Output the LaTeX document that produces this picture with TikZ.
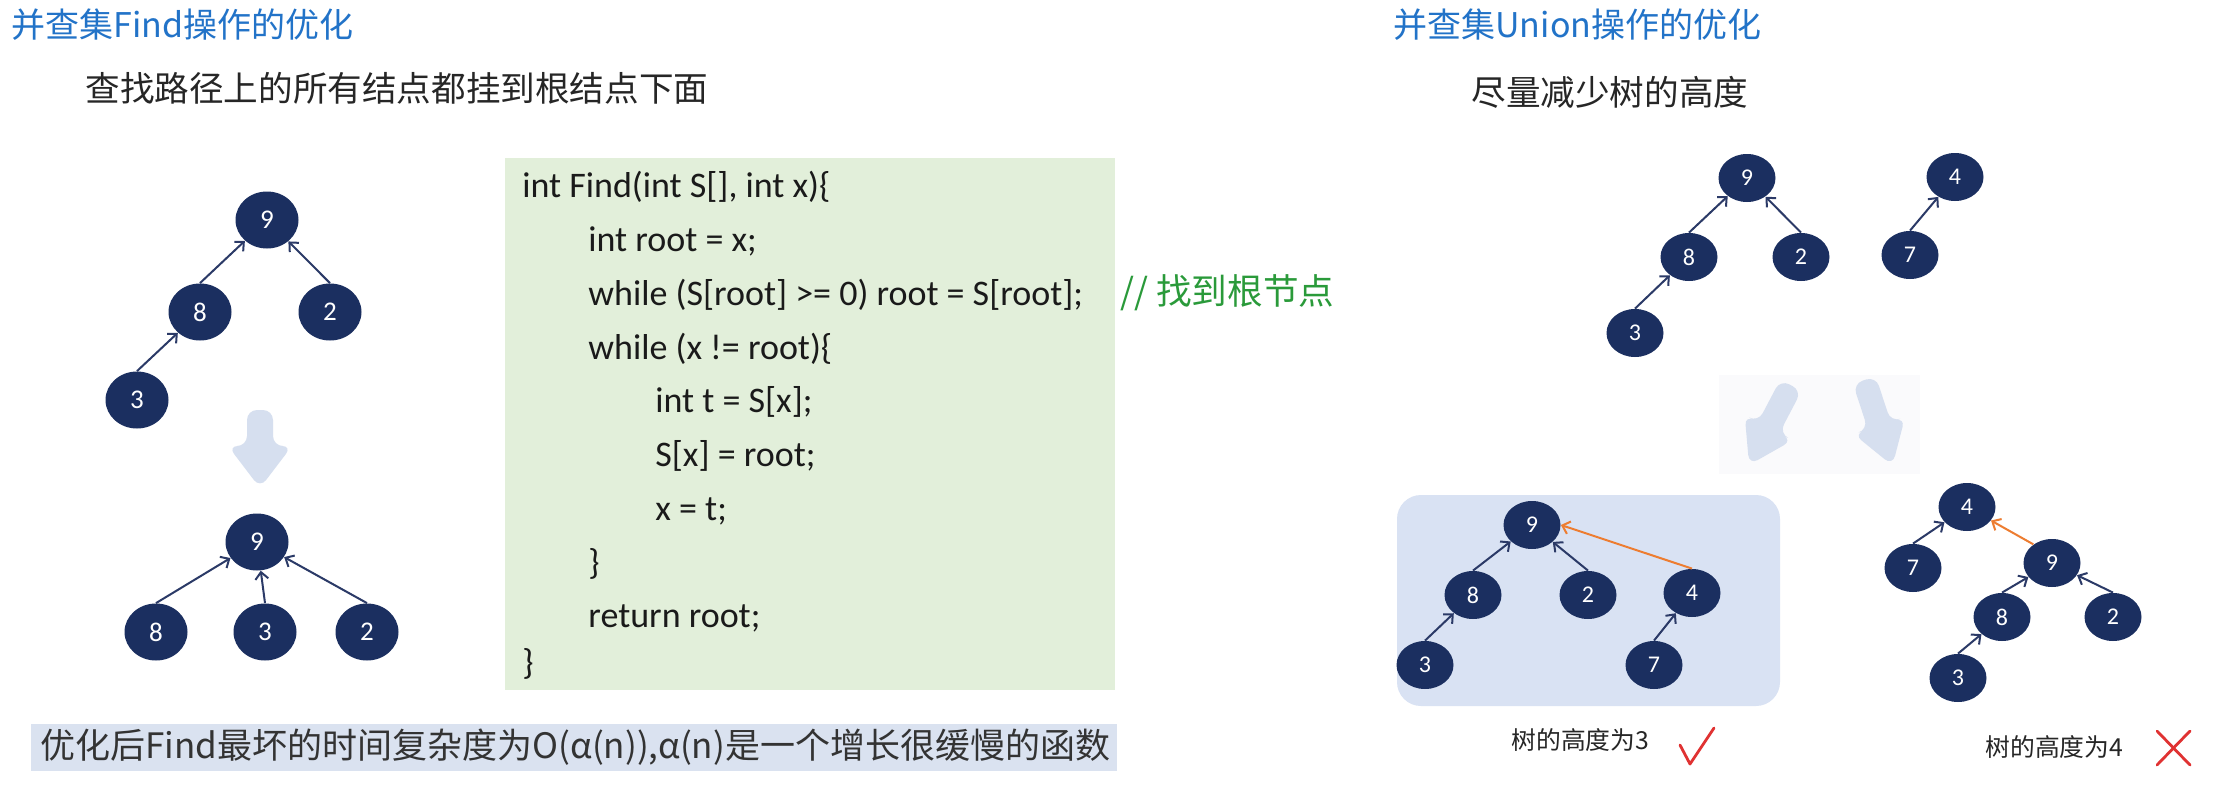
\documentclass[tikz,border=0pt]{standalone}
\usepackage{fontspec}
\setmainfont{Carlito}
\newfontfamily\cjk{Noto Sans CJK SC}
\newfontfamily\codefont{Carlito}
\usetikzlibrary{shapes.geometric,arrows.meta}
\definecolor{titleblue}{HTML}{2273C8}
\definecolor{navy}{HTML}{1B2F60}
\definecolor{edgec}{HTML}{2B3A67}
\definecolor{codebg}{HTML}{E2EFDA}
\definecolor{bannerbg}{HTML}{DAE2F0}
\definecolor{boxbg}{HTML}{D9E2F3}
\definecolor{arrowbg}{HTML}{D6DFEF}
\definecolor{faintbg}{HTML}{FAFAFC}
\definecolor{cgreen}{HTML}{2A9A3A}
\definecolor{orangec}{HTML}{ED7D31}
\definecolor{redc}{HTML}{E03232}
\definecolor{codetext}{HTML}{1A1A1A}
\definecolor{bantext}{HTML}{333333}
\tikzset{
  bignode/.style={ellipse, fill=navy, minimum width=31.5pt, minimum height=28.5pt, inner sep=0pt, text=white, font=\fontsize{13.5}{14}\selectfont},
  smallnode/.style={ellipse, fill=navy, minimum width=28.5pt, minimum height=24pt, inner sep=0pt, text=white, font=\fontsize{12}{13}\selectfont},
  link/.style={draw=edgec, line width=1pt, -{Straight Barb[length=3.5pt,width=6.5pt]}},
  olink/.style={draw=orangec, line width=1pt, -{Straight Barb[length=3.5pt,width=6.5pt]}},
  titletext/.style={anchor=west, inner sep=0pt, text=titleblue, font=\cjk\fontsize{17}{18}\selectfont},
  subtext/.style={anchor=west, inner sep=0pt, text=black!85, font=\cjk\fontsize{17.3}{18}\selectfont},
  codeline/.style={anchor=base west, inner sep=0pt, text=codetext, font=\codefont\fontsize{18}{19}\selectfont},
  labeltext/.style={anchor=west, inner sep=0pt, text=black!85, font=\cjk\fontsize{12.4}{13}\selectfont},
  markline/.style={draw=redc, line width=1.4pt, line cap=round, line join=round}
}
\begin{document}
\begin{tikzpicture}[x=0.5pt,y=-0.5pt]
\useasboundingbox (0,0) rectangle (2218,798);
\fill[white] (0,0) rectangle (2218,798);

% ---------- left part ----------
\node[titletext] (t1) at (11,25) {并查集Find操作的优化};
\node[subtext] (s1) at (85,88) {查找路径上的所有结点都挂到根结点下面};

% tree before
\node[bignode] (a9) at (267,220) {9};
\node[bignode] (a8) at (200,312) {8};
\node[bignode] (a2) at (330,312) {2};
\node[bignode] (a3) at (137,400) {3};
\draw[link] (a8.north) -- (a9);
\draw[link] (a2.north) -- (a9);
\draw[link] (a3.north) -- (a8);

% big down arrow
\fill[arrowbg, rounded corners=5pt] (247,410) -- (273,410) -- (273,446) -- (292,446) -- (260,488) -- (228,446) -- (247,446) -- cycle;

% tree after
\node[bignode] (b9) at (257,542) {9};
\node[bignode] (b8) at (156,632) {8};
\node[bignode] (b3) at (265,632) {3};
\node[bignode] (b2) at (367,632) {2};
\draw[link] (b8.north) -- (b9);
\draw[link] (b3.north) -- (b9);
\draw[link] (b2.north) -- (b9);

% code box
\fill[codebg] (505,158) rectangle (1115,690);
\node[codeline] (c0) at (522,197) {int Find(int S[], int x)\{};
\node[codeline] (c1) at (588,251) {int root = x;};
\node[codeline] (c2) at (588,305) {while (S[root] >= 0) root = S[root];};
\node[codeline] (c3) at (588,359) {while (x != root)\{};
\node[codeline] (c4) at (655,412) {int t = S[x];};
\node[codeline] (c5) at (655,466) {S[x] = root;};
\node[codeline] (c6) at (655,520) {x = t;};
\node[codeline] (c7) at (588,574) {\}};
\node[codeline] (c8) at (588,627) {return root;};
\node[codeline] (c9) at (522,674) {\}};
\node[anchor=west, inner sep=0pt, text=cgreen, font=\cjk\fontsize{17.8}{18}\selectfont] (cm) at (1120,293) {// 找到根节点};

% banner
\fill[bannerbg] (31,724) rectangle (1117,771);
\node[anchor=west, inner sep=0pt, text=bantext, font=\cjk\fontsize{17.5}{18}\selectfont] (ban) at (40,747) {优化后Find最坏的时间复杂度为O(α(n)),α(n)是一个增长很缓慢的函数};

% ---------- right part ----------
\node[titletext] (t2) at (1393,25) {并查集Union操作的优化};
\node[subtext] (s2) at (1471,92) {尽量减少树的高度};

% two trees
\node[smallnode] (r9) at (1747,178) {9};
\node[smallnode] (r8) at (1689,257) {8};
\node[smallnode] (r2) at (1801,257) {2};
\node[smallnode] (r3) at (1635,333) {3};
\node[smallnode] (r4) at (1955,177) {4};
\node[smallnode] (r7) at (1910,255) {7};
\draw[link] (r8.north) -- (r9);
\draw[link] (r2.north) -- (r9);
\draw[link] (r3.north) -- (r8);
\draw[link] (r7.north) -- (r4);

% two soft arrows
\fill[faintbg] (1719,375) rectangle (1920,474);
\begin{scope}[shift={(1790,387)}, rotate=-27.7]
  \fill[arrowbg, rounded corners=5pt] (-12,-2) -- (12,-2) -- (12,46) -- (27,46) -- (0,88) -- (-27,46) -- (-12,46) -- cycle;
\end{scope}
\begin{scope}[shift={(1865,382)}, rotate=18.2]
  \fill[arrowbg, rounded corners=5pt] (-12,-2) -- (12,-2) -- (12,46) -- (27,46) -- (0,88) -- (-27,46) -- (-12,46) -- cycle;
\end{scope}

% good union (box)
\fill[boxbg, rounded corners=12pt] (1397,495) rectangle (1780,706);
\node[smallnode] (d9) at (1532,525) {9};
\node[smallnode] (d8) at (1473,595) {8};
\node[smallnode] (d2) at (1588,595) {2};
\node[smallnode] (d4) at (1692,593) {4};
\node[smallnode] (d3) at (1425,665) {3};
\node[smallnode] (d7) at (1654,665) {7};
\draw[link] (d8.north) -- (d9);
\draw[link] (d2.north) -- (d9);
\draw[link] (d3.north) -- (d8);
\draw[link] (d7.north) -- (d4);
\draw[olink] (d4.north) -- (d9.east);

% bad union
\node[smallnode] (e4) at (1967,507) {4};
\node[smallnode] (e7) at (1913,568) {7};
\node[smallnode] (e9) at (2052,563) {9};
\node[smallnode] (e8) at (2002,617) {8};
\node[smallnode] (e2) at (2113,617) {2};
\node[smallnode] (e3) at (1958,678) {3};
\draw[link] (e7.north) -- (e4);
\draw[link] (e8.north) -- (e9);
\draw[link] (e2.north) -- (e9);
\draw[link] (e3.north) -- (e8);
\draw[olink] (e9.135) -- (e4);

% labels
\node[labeltext] (l1) at (1511,740) {树的高度为3};
\coordinate (k1) at (1680,745);
\coordinate (k2) at (1690,764);
\coordinate (k3) at (1714,728);
\draw[markline] (k1) -- (k2) -- (k3);
\node[labeltext] (l2) at (1985,747) {树的高度为4};
\coordinate (x1) at (2157,731);
\coordinate (x2) at (2190,765);
\coordinate (x3) at (2190,731);
\coordinate (x4) at (2157,765);
\draw[markline] (x1) -- (x2);
\draw[markline] (x3) -- (x4);
\end{tikzpicture}
\end{document}
